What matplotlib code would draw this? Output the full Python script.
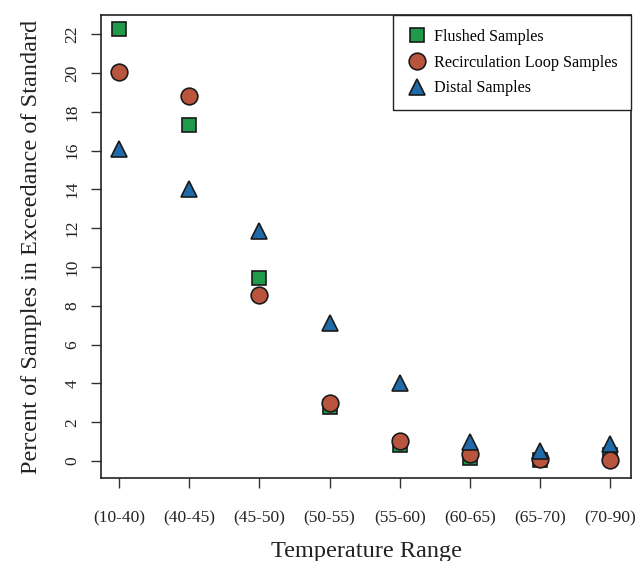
import matplotlib
matplotlib.use("Agg")
import matplotlib.pyplot as plt

plt.rcParams['font.family'] = ['Liberation Serif', 'DejaVu Serif']

ranges = ['(10-40)', '(40-45)', '(45-50)', '(50-55)', '(55-60)', '(60-65)', '(65-70)', '(70-90)']
flushed = [22.3, 17.35, 9.45, 2.8, 0.8, 0.15, 0.05, 0.3]
recirc = [20.05, 18.8, 8.55, 3.0, 1.05, 0.35, 0.12, 0.05]
distal = [16.1, 14.0, 11.85, 7.1, 4.0, 1.0, 0.5, 0.85]

x = list(range(1, len(ranges) + 1))

fig = plt.figure(figsize=(6.4, 5.61), dpi=100)
ax = fig.add_axes([0.158, 0.148, 0.828, 0.825])

ax.plot(x, flushed, 's', ms=10, color='#1e9a4a', mec='#1a1a1a', mew=1.2, label='Flushed Samples', zorder=3)
ax.plot(x, recirc, 'o', ms=12, color='#b8553c', mec='#1a1a1a', mew=1.2, label='Recirculation Loop Samples', zorder=4)
ax.plot(x, distal, '^', ms=12, color='#1f6aa8', mec='#1a1a1a', mew=1.2, label='Distal Samples', zorder=5)

ax.set_xlim(0.743, 8.30)
ax.set_ylim(-0.88, 22.99)
ax.set_xticks(x)
ax.set_xticklabels(ranges)
ax.set_yticks(range(0, 23, 2))
for lab in ax.get_yticklabels():
    lab.set_rotation(90)
    lab.set_va('center')

ax.tick_params(axis='both', direction='out', length=7, width=1, colors='#333333', labelcolor='#222222', labelsize=12.5)
ax.tick_params(axis='x', pad=16)
ax.tick_params(axis='y', pad=8)
for s in ax.spines.values():
    s.set_linewidth(1.2)
    s.set_color('#222222')

ax.set_xlabel('Temperature Range', fontsize=17.5, labelpad=11, color='#222222')
ax.set_ylabel('Percent of Samples in Exceedance of Standard', fontsize=17.5, labelpad=16, color='#222222')

leg = ax.legend(loc='upper right', borderaxespad=0, fontsize=11.6, fancybox=False,
                edgecolor='#222222', framealpha=1, handletextpad=0.45, borderpad=0.85,
                labelspacing=0.6, handlelength=1.2)
leg.get_frame().set_linewidth(1.0)

fig.savefig('out.png', dpi=100)
